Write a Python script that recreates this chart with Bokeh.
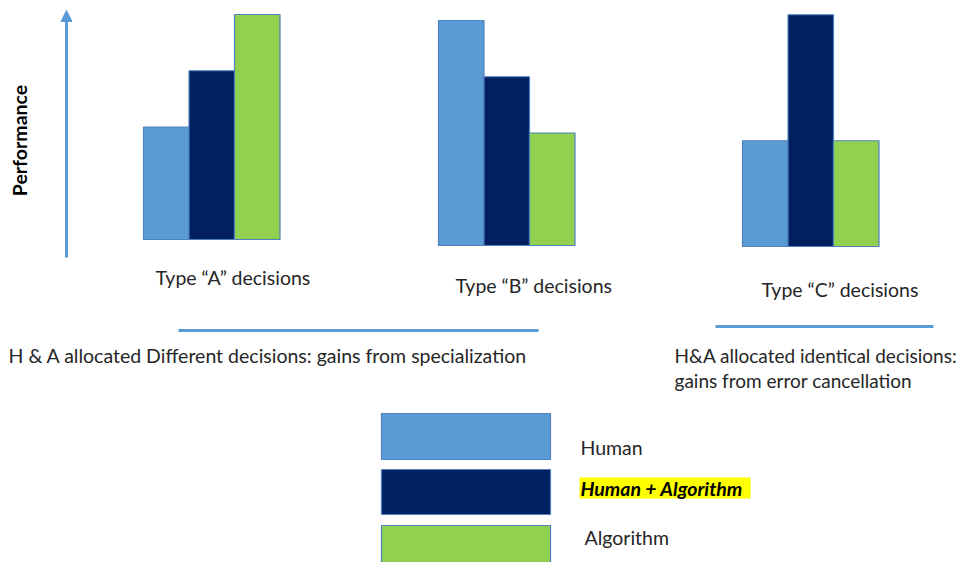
from bokeh.plotting import figure
from bokeh.models import Range1d, Arrow, NormalHead
from bokeh.core.properties import value
from bokeh.embed import file_html
from bokeh.resources import INLINE

# ---- data ----
groups = ["Type \u201cA\u201d decisions", "Type \u201cB\u201d decisions", "Type \u201cC\u201d decisions"]
series = ["Human", "Human + Algorithm", "Algorithm"]
human = [50, 100, 47]
human_algo = [75, 75, 103]
algorithm = [100, 50, 47]
axis_label = "Performance"
note_left = "H & A allocated Different decisions: gains from specialization"
note_right = ["H&A allocated identical decisions:", "gains from error cancellation"]

# ---- styles / layout ----
colors = ["#5B9BD5", "#002060", "#92D050"]
outline = "#4F81BD"
accent = "#5B9BD5"
txt_col = "#262626"
FONT = value("Lato")
FS = "19.5px"

W, H = 962, 562
p = figure(width=W, height=H, output_backend="svg", toolbar_location=None,
           x_range=Range1d(0, 962), y_range=Range1d(-140.89, 108.89),
           min_border=0, outline_line_color=None)
p.extra_y_ranges = {"px": Range1d(562, 0)}
p.axis.visible = False
p.grid.visible = False

group_left = [143, 438, 742]
group_base = [2.67, 0.0, -0.44]
bar_w = 45.5
vals = [human, human_algo, algorithm]
for si in range(3):
    lefts = [g + si * bar_w for g in group_left]
    rights = [l + bar_w for l in lefts]
    tops = [b + v for b, v in zip(group_base, vals[si])]
    p.quad(left=lefts, right=rights, bottom=group_base, top=tops,
           fill_color=colors[si], line_color=outline, line_width=1.2)

# vertical axis arrow
p.add_layout(Arrow(end=NormalHead(size=11, fill_color=accent, line_color=accent),
                   x_start=66, y_start=257, x_end=66, y_end=10,
                   line_color=accent, line_width=3, y_range_name="px"))
p.text(x=[19], y=[140], text=[axis_label], angle=1.5708, text_align="center",
       text_baseline="middle", text_font=FONT, text_font_style="bold",
       text_font_size=FS, text_color="#000000", y_range_name="px")

# group labels
p.text(x=[155, 455, 761], y=[277, 285, 289], text=groups, text_align="left",
       text_baseline="middle", text_font=FONT, text_font_size=FS,
       text_color=txt_col, y_range_name="px")

# separator lines
p.segment(x0=[178, 715], y0=[330, 326], x1=[538, 933], y1=[330, 326],
          line_color=accent, line_width=3, y_range_name="px")

p.text(x=[8], y=[355], text=[note_left], text_align="left", text_baseline="middle",
       text_font=FONT, text_font_size=FS, text_color=txt_col, y_range_name="px")
p.text(x=[674, 674], y=[355, 380], text=note_right, text_align="left",
       text_baseline="middle", text_font=FONT, text_font_size="19px",
       text_color=txt_col, y_range_name="px")

# legend
p.quad(left=[381, 381, 381], right=[550, 550, 550], top=[413, 469, 525],
       bottom=[459, 514, 570], fill_color=colors, line_color=outline,
       line_width=1.2, y_range_name="px")
p.quad(left=[579], right=[750], top=[477], bottom=[498], fill_color="#FFFF00",
       line_color=None, y_range_name="px")
p.text(x=[580], y=[447], text=[series[0]], text_baseline="middle", text_font=FONT,
       text_font_size=FS, text_color=txt_col, y_range_name="px")
p.text(x=[580], y=[488], text=[series[1]], text_baseline="middle", text_font=FONT,
       text_font_size=FS, text_font_style="bold italic", text_color="#000000",
       y_range_name="px")
p.text(x=[584], y=[537], text=[series[2]], text_baseline="middle", text_font=FONT,
       text_font_size=FS, text_color=txt_col, y_range_name="px")

open("out.html", "w").write(file_html(p, INLINE))
